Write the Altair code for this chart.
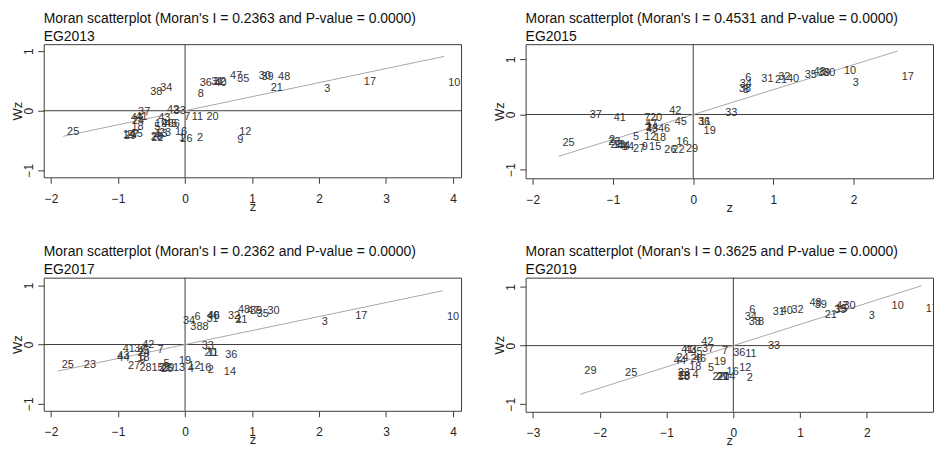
import altair as alt
import pandas as pd

ids = [str(i) for i in range(1, 49)]

# EG2013
z_2013 = [-0.15, 0.12, 2.02, -0.53, -0.52, -0.23, -0.07, 0.13, 0.72, 3.87,
          0.04, 0.75, -0.50, -0.99, -0.87, -0.21, 2.61, -0.86, -0.51, 0.26,
          1.22, -0.56, -0.45, -0.85, -1.82, -0.13, -0.93, -0.57, -0.97, 1.04,
          0.33, 0.37, -0.23, -0.43, 0.72, 0.16, -0.76, -0.58, 1.08, 0.38,
          -0.80, -0.33, -0.46, -0.87, -0.36, -0.41, 0.61, 1.33]
wz_2013 = [-0.46, -0.46, 0.36, -0.42, -0.28, -0.23, -0.11, 0.28, -0.49, 0.47,
           -0.11, -0.35, -0.40, -0.41, -0.40, -0.36, 0.49, -0.28, -0.23, -0.11,
           0.39, -0.46, -0.37, -0.18, -0.35, -0.48, -0.41, -0.44, -0.42, 0.58,
           0.48, 0.48, -0.01, 0.39, 0.53, 0.46, -0.03, 0.32, 0.56, 0.46,
           -0.10, 0.01, -0.12, -0.12, -0.23, -0.22, 0.59, 0.56]

# EG2015
z_2015 = [-0.64, -1.10, 1.94, -0.93, -0.80, 0.60, -0.66, 0.57, -0.69, 1.83,
          0.03, -0.66, -1.05, -0.94, -0.60, -0.26, 2.55, -0.54, 0.08, -0.59,
          0.97, -0.31, -1.11, -0.64, -1.68, -0.41, -0.80, -1.08, -0.14, 1.57,
          0.80, 1.01, 0.35, 0.53, 1.34, 0.01, -1.34, 0.52, 1.51, 1.12,
          -1.04, -0.35, -0.64, -0.99, -0.28, -0.49, -0.65, 1.45]
wz_2015 = [-0.22, -0.47, 0.58, -0.60, -0.41, 0.66, -0.07, 0.44, -0.60, 0.80,
           -0.13, -0.40, -0.55, -0.60, -0.59, -0.50, 0.69, -0.43, -0.30, -0.07,
           0.62, -0.64, -0.50, -0.25, -0.51, -0.64, -0.62, -0.56, -0.62, 0.76,
           0.64, 0.68, 0.02, 0.55, 0.72, -0.14, 0.00, 0.47, 0.75, 0.64,
           -0.07, 0.06, -0.27, -0.58, -0.14, -0.27, -0.18, 0.77]

# EG2017
z_2017 = [0.70, 0.28, 1.98, -0.02, -0.38, 0.08, -0.47, 0.20, -0.74, 3.85,
          0.27, -0.01, -0.24, 0.52, -0.56, 0.15, 2.48, -0.77, -0.15, 0.23,
          0.69, -0.45, -1.57, -0.77, -1.90, -0.42, -0.91, -0.74, -0.40, 1.17,
          0.26, 0.58, 0.19, -0.09, 1.01, 0.54, -0.82, 0.02, 0.91, 0.27,
          -0.99, -0.70, -1.07, -1.07, -0.77, 0.28, 0.87, 0.73]
wz_2017 = [0.43, -0.43, 0.38, -0.41, -0.33, 0.47, -0.09, 0.29, -0.27, 0.46,
           -0.14, -0.36, -0.40, -0.46, -0.40, -0.40, 0.48, -0.22, -0.28, -0.15,
           0.42, -0.40, -0.34, -0.14, -0.34, -0.41, -0.37, -0.40, -0.40, 0.57,
           0.43, 0.48, -0.03, 0.39, 0.51, -0.18, -0.08, 0.29, 0.56, 0.49,
           -0.08, 0.00, -0.20, -0.23, -0.11, 0.48, 0.57, 0.58]

# EG2019
z_2019 = [-0.21, 0.14, 1.97, -0.67, -0.44, 0.18, -0.23, 0.31, -0.85, 2.31,
          0.12, 0.03, -0.89, -0.21, 1.47, -0.16, 2.82, -0.72, -0.35, -0.30,
          1.31, -0.37, -0.89, -0.91, -1.68, -0.70, -0.31, -0.89, -2.29, 1.59,
          0.53, 0.81, 0.46, 0.11, 1.45, -0.06, -0.53, 0.17, 1.16, 0.65,
          -0.84, -0.54, -0.79, -0.95, -0.70, -0.65, 1.48, 1.08]
wz_2019 = [-0.54, -0.56, 0.50, -0.51, -0.38, 0.60, -0.10, 0.40, -0.52, 0.68,
           -0.14, -0.38, -0.53, -0.54, 0.62, -0.45, 0.62, -0.37, -0.28, -0.54,
           0.53, -0.54, -0.47, -0.21, -0.46, -0.23, -0.54, -0.52, -0.44, 0.68,
           0.58, 0.60, -0.01, 0.48, 0.61, -0.13, -0.05, 0.40, 0.70, 0.59,
           -0.07, 0.06, -0.07, -0.26, -0.11, -0.23, 0.68, 0.72]

years = ["EG2013", "EG2015", "EG2017", "EG2019"]
morans_i = [0.2363, 0.4531, 0.2362, 0.3625]
p_values = ["0.0000", "0.0000", "0.0000", "0.0000"]

FONT = "Liberation Sans"
FRAME = "#3c3c3c"


def panel(z, wz, mi, pv, year, xdom, ydom, xticks, w, h):
    df = pd.DataFrame({"z": z, "wz": wz, "id": ids})
    zmin, zmax = min(z), max(z)
    fit = pd.DataFrame({"z": [zmin, zmax], "wz": [mi * zmin, mi * zmax]})
    xs = alt.Scale(domain=xdom, nice=False, zero=False)
    ys = alt.Scale(domain=ydom, nice=False, zero=False)
    xaxis = alt.Axis(values=xticks, tickSize=6, labelFontSize=12, titleFontSize=13,
                     domain=False, grid=False, labelPadding=10, titlePadding=-4,
                     tickColor=FRAME, labelColor="#222", titleColor="#222",
                     labelFont=FONT, titleFont=FONT, titleFontWeight="normal",
                     labelFlush=False)
    yaxis = alt.Axis(values=[-1, 0, 1], tickSize=6, labelFontSize=12, titleFontSize=13,
                     domain=False, grid=False, labelPadding=2, titlePadding=-2,
                     labelAngle=270, tickColor=FRAME, labelColor="#222",
                     titleColor="#222", labelFont=FONT, titleFont=FONT,
                     titleFontWeight="normal", labelFlush=False)
    X = alt.X("z:Q", scale=xs, axis=xaxis, title="z")
    Y = alt.Y("wz:Q", scale=ys, axis=yaxis, title="Wz")

    hline = alt.Chart(pd.DataFrame({"wz": [0.0]})).mark_rule(
        color=FRAME, strokeWidth=1).encode(y=Y)
    vline = alt.Chart(pd.DataFrame({"z": [0.0]})).mark_rule(
        color=FRAME, strokeWidth=1).encode(x=X)
    line = alt.Chart(fit).mark_line(color="#a8a8a8", strokeWidth=1, clip=True).encode(x=X, y=Y)
    text = alt.Chart(df).mark_text(
        align="left", baseline="middle", dx=4, fontSize=11, font=FONT,
        color="#333333", clip=True).encode(x=X, y=Y, text="id:N")
    title = alt.TitleParams(
        text=[f"Moran scatterplot (Moran's I = {mi:.4f} and P-value = {pv})", year],
        anchor="start", frame="group", fontSize=14, font=FONT,
        fontWeight="normal", color="#111111", lineHeight=18, offset=0)
    return alt.layer(hline, vline, line, text).properties(width=w, height=h, title=title)


p1 = panel(z_2013, wz_2013, morans_i[0], p_values[0], years[0],
           [-2.11, 4.12], [-1.12, 1.12], [-2, -1, 0, 1, 2, 3, 4], 420, 134)
p2 = panel(z_2015, wz_2015, morans_i[1], p_values[1], years[1],
           [-2.09, 2.99], [-1.16, 1.28], [-2, -1, 0, 1, 2], 410, 135)
p3 = panel(z_2017, wz_2017, morans_i[2], p_values[2], years[2],
           [-2.11, 4.12], [-1.12, 1.13], [-2, -1, 0, 1, 2, 3, 4], 420, 134)
p4 = panel(z_2019, wz_2019, morans_i[3], p_values[3], years[3],
           [-3.11, 2.99], [-1.13, 1.16], [-3, -2, -1, 0, 1, 2], 410, 135)

chart = alt.vconcat(
    alt.hconcat(p1, p2, spacing=31),
    alt.hconcat(p3, p4, spacing=31),
    spacing=30,
).properties(
    padding={"left": 11, "top": 10, "right": 0, "bottom": 0},
    background="white",
).configure_view(stroke=FRAME, strokeWidth=1)

chart.save("out.html", embed_options={"renderer": "svg", "actions": False})
